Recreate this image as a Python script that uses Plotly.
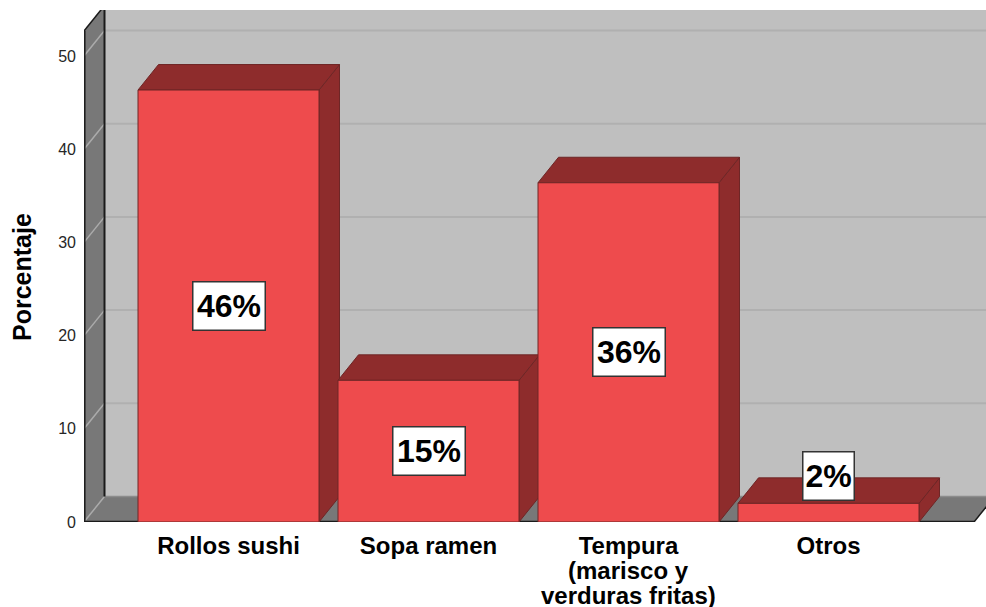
import plotly.graph_objects as go

categories = ["Rollos sushi", "Sopa ramen", "Tempura<br>(marisco y<br>verduras fritas)", "Otros"]
values = [46.35, 15.2, 36.4, 2.0]
bar_labels = ["46%", "15%", "36%", "2%"]
y_ticks = [0, 10, 20, 30, 40, 50]

FRONT = "#EE4B4D"
DARK = "#8E2C2C"
EDGE = "#6E2626"
WALL = "#BFBFBF"
SIDE = "#787878"
GRID_BACK = "#B0B0B0"
GRID_SIDE = "#ABABAB"

W, H = 986, 607
ML, MR, MT, MB = 84, 0, 10, 85
PX_X = 200.0          # pixels per category
PX_Y = 9.32           # pixels per percentage point
X0_PX = 228.5         # page position of the first category
DX = 20.5 / PX_X      # depth offset, x units
DY = 25.5 / PX_Y      # depth offset, y units
BAR_W = 181 / PX_X

x_min = (ML - X0_PX) / PX_X
x_max = (W - MR - X0_PX) / PX_X
PLOT_H = H - MB - MT
y_max = PLOT_H / PX_Y
x_right = x_max + 0.2
WALL_FRONT_TOP = 52.68
WALL_BACK_TOP = WALL_FRONT_TOP + DY


def poly(points, fill, line_color=None, line_width=0):
    path = "M " + " L ".join(f"{x},{y}" for x, y in points) + " Z"
    return dict(type="path", path=path, xref="x", yref="y", layer="below",
                fillcolor=fill,
                line=dict(color=line_color or fill, width=line_width))


def seg(x0, y0, x1, y1, color, width):
    return dict(type="line", x0=x0, y0=y0, x1=x1, y1=y1, xref="x", yref="y",
                layer="below", line=dict(color=color, width=width))


shapes = []
# back wall, side wall, floor
shapes.append(poly([(x_min + DX, DY), (x_right, DY), (x_right, WALL_BACK_TOP), (x_min + DX, WALL_BACK_TOP)], WALL))
shapes.append(poly([(x_min, 0), (x_min + DX, DY), (x_min + DX, WALL_BACK_TOP), (x_min, WALL_FRONT_TOP)], SIDE))
floor_end = x_min + 890 / PX_X
shapes.append(poly([(x_min, 0), (floor_end, 0), (floor_end + DX, DY), (x_min + DX, DY)], SIDE))

# grid lines on the walls
for t in y_ticks:
    if t > 0:
        shapes.append(seg(x_min + DX, t + DY, x_right, t + DY, GRID_BACK, 2))
    shapes.append(seg(x_min, t, x_min + DX, t + DY, GRID_SIDE, 1.5))
shapes.append(seg(x_min + DX, DY, x_right, DY, "#8C8C8C", 1.5))

# wall edges
shapes.append(seg(x_min + DX, DY, x_min + DX, WALL_BACK_TOP, "#1A1A1A", 2))
shapes.append(seg(x_min + 0.004, 0, x_min + 0.004, WALL_FRONT_TOP, "#1A1A1A", 1.5))
shapes.append(seg(x_min, WALL_FRONT_TOP, x_min + DX, WALL_BACK_TOP, "#1A1A1A", 1.5))
shapes.append(seg(x_min, 0, floor_end, 0, "#1A1A1A", 2.5))
shapes.append(seg(floor_end, 0, floor_end + DX, DY, "#1A1A1A", 1.5))

# 3-D sides and tops of the bars, derived from the values
for i, v in enumerate(values):
    l, r = i - BAR_W / 2, i + BAR_W / 2
    shapes.append(poly([(r, 0), (r + DX, DY), (r + DX, v + DY), (r, v)], DARK, EDGE, 1))
    shapes.append(poly([(l, v), (r, v), (r + DX, v + DY), (l + DX, v + DY)], DARK, EDGE, 1))

fig = go.Figure()
fig.add_trace(go.Bar(
    x=list(range(len(categories))), y=values, width=BAR_W,
    marker=dict(color=FRONT, line=dict(color=EDGE, width=1)),
    hoverinfo="skip", showlegend=False,
))

annotations = []
for i, (v, lab) in enumerate(zip(values, bar_labels)):
    annotations.append(dict(
        x=i, y=max(v / 2, 4.9), xref="x", yref="y", text=lab, showarrow=False,
        font=dict(family="Liberation Sans", size=32, color="#000000", weight="bold"),
        bgcolor="#FFFFFF", bordercolor="#333333", borderwidth=1.5,
        width=(71 if len(lab) == 3 else 50), height=47, borderpad=0,
        xanchor="center", yanchor="middle",
    ))

annotations.append(dict(
    x=(22 - ML) / (W - ML - MR), y=(H - MB - 277) / PLOT_H,
    xref="paper", yref="paper", text="Porcentaje", showarrow=False, textangle=-90,
    font=dict(family="Liberation Sans", size=25, color="#000000", weight="bold"),
    xanchor="center", yanchor="middle",
))

# x labels: first line as the axis tick, later lines set tighter than a tick label allows
X_FONT = dict(family="Liberation Sans", size=24, color="#000000", weight="bold")
first_lines = [c.split("<br>")[0] for c in categories]
for i, c in enumerate(categories):
    for j, line in enumerate(c.split("<br>")[1:], start=1):
        annotations.append(dict(
            x=i, xref="x", y=-(24 + 24.5 * j) / PLOT_H, yref="paper", text=line,
            showarrow=False, font=X_FONT, xanchor="center", yanchor="middle",
            borderpad=0,
        ))

fig.update_layout(
    width=W, height=H, autosize=False,
    margin=dict(l=ML, r=MR, t=MT, b=MB, pad=0),
    paper_bgcolor="#FFFFFF", plot_bgcolor="#FFFFFF",
    showlegend=False, shapes=shapes, annotations=annotations,
    xaxis=dict(
        range=[x_min, x_max], tickmode="array", tickvals=list(range(len(categories))),
        ticktext=first_lines, showgrid=False, zeroline=False, showline=False, ticks="",
        tickangle=0, ticklabelstandoff=7, tickfont=X_FONT,
    ),
    yaxis=dict(
        range=[0, y_max], tickmode="array", tickvals=y_ticks, showgrid=False,
        zeroline=False, showline=False, ticks="", ticklabelstandoff=7,
        tickfont=dict(family="Liberation Sans", size=16, color="#262626"),
    ),
)

fig.write_html(
    "out.html",
    config={"displayModeBar": False},
    post_script="document.body.style.margin='0';document.documentElement.style.overflow='hidden';",
)
